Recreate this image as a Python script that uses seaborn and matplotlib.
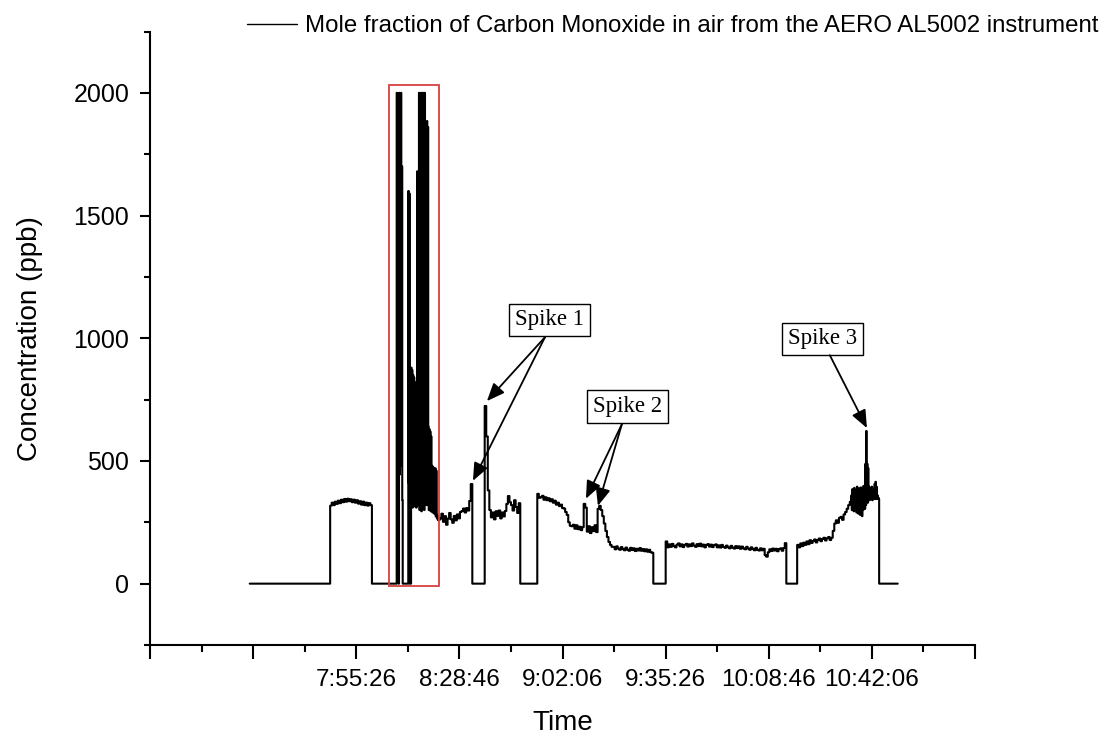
import matplotlib
matplotlib.use("Agg")
import numpy as np
import pandas as pd
import matplotlib.pyplot as plt
import seaborn as sns
from matplotlib.patches import Rectangle
from matplotlib.lines import Line2D
from matplotlib.ticker import FixedLocator

# ---------------- data ----------------
START_MIN = 21.0          # first sample, minutes after 07:00:00
COARSE = 0.5              # sampling step (min) of ordinary record
FINE = 0.15               # sampling step (min) in the noisy bursts

lead_zero = [0] * 52
plateau_1 = [318, 330, 320, 334, 325, 338, 328, 342, 332, 345, 334, 346, 336, 344,
             332, 342, 330, 340, 326, 336, 322, 334, 320, 330, 318, 328, 320]
zero_2 = [0] * 16
burst = [2000, 460, 1995, 520, 0, 2000, 445, 1990, 600, 2000, 480,
         1700, 340,
         0, 0, 0, 0, 0, 0, 0, 0, 0, 0, 0, 0,
         1600, 410, 1590, 0,
         0, 0,
         880, 320, 870, 310, 850, 330, 840, 315, 820, 325, 805, 310, 800,
         1680, 320, 1670, 330,
         2000, 300, 1990, 310, 2000, 295, 1985, 320, 2000, 305, 1995, 300, 2000,
         1880, 330, 1870, 320, 1885, 335, 1860,
         640, 300, 630, 310, 620, 295, 600, 305,
         480, 290, 475, 300, 470, 285, 465,
         470, 275, 460, 270,
         280, 262, 275, 258, 268, 260]
after_burst = [265, 285, 252, 275, 240, 265, 288, 262, 248, 276, 258, 282, 266, 292,
               296, 306, 290, 308, 298, 337, 406]
zero_3 = [0] * 8
spike_1 = [724, 600, 380, 300, 270, 290, 262, 295, 276, 298, 266, 290, 274, 296,
           325, 357, 332, 320, 298, 340, 312, 288, 328]
zero_4 = [0] * 11
spike_2 = [366, 350, 352, 358, 342, 352, 340, 348, 336, 344, 330, 338, 322, 330,
           316, 322, 308, 306, 292, 280,
           250, 236, 234, 240, 224, 238, 222, 232, 218, 230,
           325, 310,
           212, 234, 206, 230, 214, 238, 210,
           305, 317,
           300, 275, 245, 215, 190, 170, 158, 150,
           150, 140, 152, 143, 138, 149, 141, 136, 147, 139, 134, 146, 137, 144,
           133, 142, 135, 145, 134, 141, 132, 140, 130, 138, 128, 126]
zero_5 = [0] * 8
flat_mid = [172, 148, 160, 150, 162, 153, 148, 159, 164, 152,
            160, 149, 158, 162, 151, 160, 153, 164, 155, 150,
            161, 153, 163, 152, 159, 148, 158, 161, 151, 159,
            149, 157, 160, 148, 156, 147, 158, 150, 146, 155,
            148, 144, 154, 147, 143, 153, 145, 152, 142, 151,
            144, 140, 150, 143, 138, 148, 141, 136, 146, 138,
            135, 144, 136, 142, 116, 110, 128, 140, 133, 143,
            135, 142, 132, 141, 144, 134, 145, 165]
zero_6 = [0] * 7
rise_end = [158, 148, 164, 153, 167, 158, 172, 161, 177, 166, 174, 180, 168, 178,
            184, 173, 182, 187, 176, 185, 190, 178, 187,
            215, 245, 258, 248, 268, 272, 260, 282, 292,
            305, 320, 333]
spike_3 = [360, 300, 385, 310, 370, 295, 390, 320, 375, 300,
           380, 290, 395, 305, 370, 285, 388, 300, 365, 280,
           392, 295, 378, 275, 385, 300, 398, 310, 380, 305,
           488, 320, 622, 340, 488, 330, 470, 350, 395, 340,
           390, 345, 380, 350, 395, 340, 385, 355, 375, 345,
           406, 350, 415, 345, 395, 350, 360, 345, 350, 345]
tail_zero = [0] * 13

segments = [(COARSE, lead_zero), (COARSE, plateau_1), (COARSE, zero_2),
            (FINE, burst), (COARSE, after_burst), (COARSE, zero_3),
            (COARSE, spike_1), (COARSE, zero_4), (COARSE, spike_2),
            (COARSE, zero_5), (COARSE, flat_mid), (COARSE, zero_6),
            (COARSE, rise_end), (FINE, spike_3), (COARSE, tail_zero)]

x_tick_times = ["6:48:46", "7:22:06", "7:55:26", "8:28:46", "9:02:06",
                "9:35:26", "10:08:46", "10:42:06", "11:15:26"]
x_tick_shown = [False, False, True, True, True, True, True, True, False]
y_ticks = [0, 500, 1000, 1500, 2000]

series_label = "Mole fraction of Carbon Monoxide in air from the AERO AL5002 instrument"

# annotation boxes: (text, box centre (min after 7:00, ppb), arrow start, arrow tips)
annotations = [
    ("Spike 1", (117.87, 1075), (116.42, 1004), [(97.67, 744), (93.15, 419)]),
    ("Spike 2", (143.08, 722), (141.30, 650), [(129.67, 346), (133.55, 317)]),
    ("Spike 3", (206.10, 998), (208.50, 931), [(220.50, 634)]),
]
highlight_min = (66.0, 82.17)     # red box, minutes after 7:00
highlight_ppb = (-8, 2033)

# ---------------- build ----------------
def hms_to_sec(s):
    h, m, sec = (int(p) for p in s.split(":"))
    return h * 3600 + m * 60 + sec

BASE = 7 * 3600
times, vals = [], []
cur = START_MIN
for step, seg in segments:
    for val in seg:
        times.append(BASE + cur * 60.0)
        vals.append(val)
        cur += step
df = pd.DataFrame({"time": times, "co": vals})

sns.set_theme(style="ticks")
plt.rcParams["font.family"] = ["Liberation Sans", "DejaVu Sans"]
plt.rcParams["text.color"] = "black"

fig = plt.figure(figsize=(11.11, 7.38), dpi=100)
ax = fig.add_axes([150 / 1111, 93 / 738, 825 / 1111, 613.5 / 738])

sns.lineplot(data=df, x="time", y="co", ax=ax, color="black", linewidth=1.5,
             drawstyle="steps-post", estimator=None, sort=False, legend=False)

tick_secs = [hms_to_sec(s) for s in x_tick_times]
ax.set_xlim(tick_secs[0], tick_secs[-1])
ax.set_ylim(-250, 2250)
ax.xaxis.set_major_locator(FixedLocator(tick_secs))
ax.set_xticklabels([s if shown else "" for s, shown in zip(x_tick_times, x_tick_shown)])
minor_x = [(a + b) / 2 for a, b in zip(tick_secs[:-1], tick_secs[1:])]
ax.xaxis.set_minor_locator(FixedLocator(minor_x))
ax.set_yticks(y_ticks)
ax.set_yticklabels([str(v) for v in y_ticks])
ax.yaxis.set_minor_locator(FixedLocator([-250, 250, 750, 1250, 1750, 2250]))

ax.tick_params(axis="x", which="major", length=10, width=1.5, pad=7, labelsize=17.5, colors="black")
ax.tick_params(axis="x", which="minor", length=5, width=1.5, colors="black")
ax.tick_params(axis="y", which="major", length=7, width=1.5, pad=8, labelsize=18, colors="black")
ax.tick_params(axis="y", which="minor", length=4, width=1.5, colors="black")
for sp in ["top", "right"]:
    ax.spines[sp].set_visible(False)
for sp in ["left", "bottom"]:
    ax.spines[sp].set_linewidth(1.5)
    ax.spines[sp].set_color("black")

ax.set_xlabel("Time", fontsize=20, labelpad=14, color="black")
ax.set_ylabel("Concentration (ppb)", fontsize=20, labelpad=22, color="black")

# red highlight rectangle
x0 = BASE + highlight_min[0] * 60
x1 = BASE + highlight_min[1] * 60
ax.add_patch(Rectangle((x0, highlight_ppb[0]), x1 - x0, highlight_ppb[1] - highlight_ppb[0],
                       fill=False, edgecolor="#d84040", linewidth=1.3, zorder=5))

for text, centre, start, tips in annotations:
    ax.text(BASE + centre[0] * 60, centre[1], text, ha="center", va="center",
            fontsize=16.5, family=["Liberation Serif", "DejaVu Serif"], color="black",
            bbox=dict(boxstyle="square,pad=0.25", fc="white", ec="black", lw=1.0), zorder=6)
    for tip in tips:
        ax.annotate("", xy=(BASE + tip[0] * 60, tip[1]),
                    xytext=(BASE + start[0] * 60, start[1]),
                    arrowprops=dict(arrowstyle="-|>,head_length=0.6,head_width=0.25",
                                    color="black", lw=1.3,
                                    mutation_scale=18, shrinkA=0, shrinkB=0), zorder=6)

legend_handle = Line2D([], [], color="black", linewidth=1.0)
fig.legend([legend_handle], [series_label], loc="center left",
           bbox_to_anchor=(247 / 1111, 1 - 26 / 738), frameon=False, fontsize=17.3,
           handlelength=2.1, handletextpad=0.33, borderpad=0, borderaxespad=0,
           labelcolor="black")

fig.savefig("out.png", dpi=100)
